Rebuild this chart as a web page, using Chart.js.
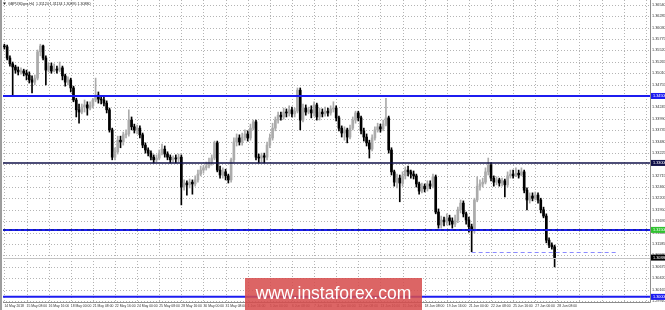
<!DOCTYPE html>
<html>
<head>
<meta charset="utf-8">
<script src="https://cdn.jsdelivr.net/npm/chart.js@4.4.0/dist/chart.umd.min.js"></script>
<style>
  html, body { margin: 0; padding: 0; background: #fff; overflow: hidden; }
  #wrap { position: relative; width: 665px; height: 310px; }
  #stamp {
    position: absolute; left: 245px; top: 278px; width: 177px; height: 32px;
    background: rgba(214, 76, 76, 0.86); color: #fff;
    font: 17.5px "Liberation Sans", Arial, sans-serif; line-height: 30px; text-align: center;
  }
</style>
</head>
<body>
<div id="wrap">
  <canvas id="chart" width="665" height="310"></canvas>
  <div id="stamp">www.instaforex.com</div>
</div>
<script>
// GBPUSD H4, 14 May 2018 00:00 .. 28 Jun 2018 04:00
const opens = [
  1.3562, 1.3560, 1.3535, 1.3522, 1.3515, 1.3508, 1.3504, 1.3506, 1.3501, 1.3497,
  1.3486, 1.3481, 1.3490, 1.3549, 1.3562, 1.3535, 1.3508, 1.3517, 1.3506, 1.3510,
  1.3508, 1.3513, 1.3495, 1.3481, 1.3486, 1.3468, 1.3441, 1.3419, 1.3414, 1.3425,
  1.3430, 1.3423, 1.3428, 1.3441, 1.3452, 1.3443, 1.3441, 1.3434, 1.3419, 1.3374,
  1.3313, 1.3325, 1.3351, 1.3347, 1.3363, 1.3365, 1.3396, 1.3381, 1.3374, 1.3378,
  1.3363, 1.3340, 1.3329, 1.3322, 1.3313, 1.3307, 1.3311, 1.3322, 1.3331, 1.3320,
  1.3313, 1.3307, 1.3311, 1.3309, 1.3313, 1.3246, 1.3255, 1.3251, 1.3257, 1.3253,
  1.3262, 1.3275, 1.3284, 1.3289, 1.3293, 1.3302, 1.3311, 1.3345, 1.3284, 1.3273,
  1.3280, 1.3271, 1.3262, 1.3307, 1.3347, 1.3356, 1.3347, 1.3358, 1.3365, 1.3356,
  1.3378, 1.3392, 1.3313, 1.3311, 1.3316, 1.3313, 1.3340, 1.3356, 1.3378, 1.3396,
  1.3407, 1.3403, 1.3414, 1.3412, 1.3419, 1.3410, 1.3416, 1.3463, 1.3396, 1.3423,
  1.3414, 1.3419, 1.3412, 1.3430, 1.3403, 1.3414, 1.3410, 1.3416, 1.3412, 1.3421,
  1.3423, 1.3401, 1.3378, 1.3367, 1.3374, 1.3358, 1.3378, 1.3396, 1.3412, 1.3401,
  1.3372, 1.3358, 1.3345, 1.3331, 1.3356, 1.3374, 1.3381, 1.3376, 1.3387, 1.3401,
  1.3329, 1.3280, 1.3257, 1.3266, 1.3255, 1.3271, 1.3284, 1.3280, 1.3275, 1.3271,
  1.3253, 1.3237, 1.3248, 1.3242, 1.3253, 1.3248, 1.3269, 1.3190, 1.3161, 1.3172,
  1.3168, 1.3177, 1.3170, 1.3163, 1.3172, 1.3195, 1.3210, 1.3186, 1.3172, 1.3157,
  1.3148, 1.3217, 1.3248, 1.3253, 1.3257, 1.3280, 1.3295, 1.3266, 1.3257, 1.3262,
  1.3255, 1.3260, 1.3251, 1.3271, 1.3275, 1.3271, 1.3277, 1.3273, 1.3280, 1.3239,
  1.3217, 1.3226, 1.3221, 1.3228, 1.3217, 1.3195, 1.3181, 1.3127, 1.3116, 1.3112
];
const highs = [
  1.3566, 1.3564, 1.3540, 1.3526, 1.3519, 1.3515, 1.3513, 1.3510, 1.3508, 1.3504,
  1.3495, 1.3497, 1.3553, 1.3566, 1.3564, 1.3540, 1.3524, 1.3524, 1.3522, 1.3517,
  1.3526, 1.3517, 1.3499, 1.3493, 1.3490, 1.3472, 1.3445, 1.3432, 1.3432, 1.3441,
  1.3437, 1.3437, 1.3445, 1.3490, 1.3459, 1.3450, 1.3448, 1.3439, 1.3423, 1.3378,
  1.3334, 1.3360, 1.3360, 1.3369, 1.3374, 1.3419, 1.3403, 1.3387, 1.3385, 1.3383,
  1.3367, 1.3345, 1.3334, 1.3327, 1.3318, 1.3318, 1.3329, 1.3342, 1.3338, 1.3325,
  1.3318, 1.3316, 1.3318, 1.3320, 1.3318, 1.3262, 1.3260, 1.3264, 1.3262, 1.3271,
  1.3284, 1.3293, 1.3295, 1.3302, 1.3311, 1.3318, 1.3349, 1.3349, 1.3293, 1.3289,
  1.3286, 1.3275, 1.3311, 1.3356, 1.3365, 1.3363, 1.3367, 1.3374, 1.3372, 1.3387,
  1.3396, 1.3396, 1.3320, 1.3322, 1.3322, 1.3347, 1.3365, 1.3389, 1.3403, 1.3414,
  1.3414, 1.3423, 1.3421, 1.3428, 1.3425, 1.3423, 1.3468, 1.3468, 1.3432, 1.3430,
  1.3425, 1.3428, 1.3437, 1.3434, 1.3423, 1.3421, 1.3425, 1.3423, 1.3428, 1.3437,
  1.3428, 1.3405, 1.3383, 1.3381, 1.3378, 1.3385, 1.3403, 1.3416, 1.3416, 1.3405,
  1.3378, 1.3365, 1.3351, 1.3363, 1.3381, 1.3389, 1.3387, 1.3396, 1.3445, 1.3405,
  1.3334, 1.3284, 1.3275, 1.3273, 1.3280, 1.3291, 1.3293, 1.3284, 1.3282, 1.3275,
  1.3257, 1.3255, 1.3253, 1.3260, 1.3260, 1.3275, 1.3273, 1.3197, 1.3181, 1.3179,
  1.3186, 1.3183, 1.3177, 1.3183, 1.3201, 1.3217, 1.3215, 1.3190, 1.3179, 1.3163,
  1.3221, 1.3269, 1.3262, 1.3266, 1.3289, 1.3311, 1.3300, 1.3271, 1.3269, 1.3266,
  1.3266, 1.3264, 1.3280, 1.3284, 1.3284, 1.3289, 1.3284, 1.3289, 1.3284, 1.3244,
  1.3233, 1.3233, 1.3235, 1.3233, 1.3221, 1.3201, 1.3186, 1.3132, 1.3121, 1.3116
];
const lows = [
  1.3555, 1.3531, 1.3517, 1.3452, 1.3501, 1.3497, 1.3499, 1.3495, 1.3486, 1.3479,
  1.3457, 1.3475, 1.3486, 1.3540, 1.3531, 1.3475, 1.3504, 1.3501, 1.3504, 1.3501,
  1.3504, 1.3486, 1.3472, 1.3475, 1.3459, 1.3437, 1.3403, 1.3389, 1.3410, 1.3414,
  1.3407, 1.3419, 1.3423, 1.3437, 1.3434, 1.3432, 1.3428, 1.3412, 1.3369, 1.3307,
  1.3307, 1.3320, 1.3334, 1.3340, 1.3356, 1.3360, 1.3374, 1.3367, 1.3365, 1.3356,
  1.3334, 1.3322, 1.3316, 1.3307, 1.3300, 1.3302, 1.3307, 1.3318, 1.3313, 1.3307,
  1.3300, 1.3302, 1.3300, 1.3302, 1.3206, 1.3239, 1.3228, 1.3244, 1.3230, 1.3248,
  1.3257, 1.3271, 1.3277, 1.3284, 1.3289, 1.3295, 1.3307, 1.3280, 1.3266, 1.3266,
  1.3262, 1.3255, 1.3257, 1.3302, 1.3338, 1.3340, 1.3340, 1.3351, 1.3349, 1.3351,
  1.3374, 1.3307, 1.3300, 1.3302, 1.3300, 1.3307, 1.3334, 1.3351, 1.3372, 1.3389,
  1.3396, 1.3398, 1.3403, 1.3405, 1.3403, 1.3403, 1.3412, 1.3374, 1.3392, 1.3407,
  1.3410, 1.3401, 1.3405, 1.3396, 1.3396, 1.3403, 1.3405, 1.3405, 1.3407, 1.3414,
  1.3394, 1.3372, 1.3358, 1.3351, 1.3345, 1.3354, 1.3374, 1.3389, 1.3394, 1.3365,
  1.3349, 1.3338, 1.3311, 1.3327, 1.3351, 1.3369, 1.3369, 1.3372, 1.3383, 1.3322,
  1.3273, 1.3248, 1.3244, 1.3213, 1.3248, 1.3264, 1.3271, 1.3266, 1.3264, 1.3246,
  1.3230, 1.3233, 1.3235, 1.3237, 1.3242, 1.3244, 1.3186, 1.3154, 1.3154, 1.3159,
  1.3161, 1.3161, 1.3154, 1.3157, 1.3166, 1.3188, 1.3179, 1.3163, 1.3145, 1.3101,
  1.3143, 1.3213, 1.3239, 1.3246, 1.3253, 1.3273, 1.3260, 1.3248, 1.3251, 1.3248,
  1.3248, 1.3224, 1.3246, 1.3266, 1.3266, 1.3269, 1.3266, 1.3271, 1.3233, 1.3195,
  1.3210, 1.3215, 1.3217, 1.3210, 1.3188, 1.3177, 1.3121, 1.3110, 1.3107, 1.3067
];
const closes = [
  1.3560, 1.3535, 1.3522, 1.3515, 1.3508, 1.3504, 1.3506, 1.3501, 1.3497, 1.3486,
  1.3481, 1.3490, 1.3549, 1.3562, 1.3535, 1.3508, 1.3517, 1.3506, 1.3510, 1.3508,
  1.3513, 1.3495, 1.3481, 1.3486, 1.3468, 1.3441, 1.3419, 1.3414, 1.3425, 1.3430,
  1.3423, 1.3428, 1.3441, 1.3452, 1.3443, 1.3441, 1.3434, 1.3419, 1.3374, 1.3313,
  1.3325, 1.3351, 1.3347, 1.3363, 1.3365, 1.3396, 1.3381, 1.3374, 1.3378, 1.3363,
  1.3340, 1.3329, 1.3322, 1.3313, 1.3307, 1.3311, 1.3322, 1.3331, 1.3320, 1.3313,
  1.3307, 1.3311, 1.3309, 1.3313, 1.3246, 1.3255, 1.3251, 1.3257, 1.3253, 1.3262,
  1.3275, 1.3284, 1.3289, 1.3293, 1.3302, 1.3311, 1.3345, 1.3284, 1.3273, 1.3280,
  1.3271, 1.3262, 1.3307, 1.3347, 1.3356, 1.3347, 1.3358, 1.3365, 1.3356, 1.3378,
  1.3392, 1.3313, 1.3311, 1.3316, 1.3313, 1.3340, 1.3356, 1.3378, 1.3396, 1.3407,
  1.3403, 1.3414, 1.3412, 1.3419, 1.3410, 1.3416, 1.3463, 1.3396, 1.3423, 1.3414,
  1.3419, 1.3412, 1.3430, 1.3403, 1.3414, 1.3410, 1.3416, 1.3412, 1.3421, 1.3423,
  1.3401, 1.3378, 1.3367, 1.3374, 1.3358, 1.3378, 1.3396, 1.3412, 1.3401, 1.3372,
  1.3358, 1.3345, 1.3331, 1.3356, 1.3374, 1.3381, 1.3376, 1.3387, 1.3401, 1.3329,
  1.3280, 1.3257, 1.3266, 1.3255, 1.3271, 1.3284, 1.3280, 1.3275, 1.3271, 1.3253,
  1.3237, 1.3248, 1.3242, 1.3253, 1.3248, 1.3269, 1.3190, 1.3161, 1.3172, 1.3168,
  1.3177, 1.3170, 1.3163, 1.3172, 1.3195, 1.3210, 1.3186, 1.3172, 1.3157, 1.3148,
  1.3217, 1.3248, 1.3253, 1.3257, 1.3280, 1.3295, 1.3266, 1.3257, 1.3262, 1.3255,
  1.3260, 1.3251, 1.3271, 1.3275, 1.3271, 1.3277, 1.3273, 1.3280, 1.3239, 1.3217,
  1.3226, 1.3221, 1.3228, 1.3217, 1.3195, 1.3181, 1.3127, 1.3116, 1.3112, 1.3088
];

// one label every 8 bars
const timeLabels = [
  "14 May 2018", "15 May 08:00", "16 May 16:00", "18 May 00:00", "21 May 08:00",
  "22 May 16:00", "24 May 00:00", "25 May 08:00", "28 May 16:00", "30 May 00:00",
  "31 May 08:00", "1 Jun 16:00", "5 Jun 00:00", "6 Jun 08:00", "7 Jun 16:00",
  "11 Jun 00:00", "12 Jun 08:00", "13 Jun 16:00", "15 Jun 00:00", "18 Jun 08:00",
  "19 Jun 16:00", "21 Jun 00:00", "22 Jun 08:00", "25 Jun 16:00", "27 Jun 00:00",
  "28 Jun 08:00"
];
const priceTicks = [
  1.36540, 1.36285, 1.36030, 1.35775, 1.35520, 1.35265, 1.35010, 1.34755, 1.34500,
  1.34245, 1.33990, 1.33735, 1.33480, 1.33225, 1.32970, 1.32715, 1.32460, 1.32205,
  1.31950, 1.31695, 1.31440, 1.31185, 1.30930, 1.30675, 1.30420, 1.30165, 1.29910
];

const levels = [1.3450, 1.3300, 1.3150, 1.3000];
const levelColors = ["#1c1cf0", "#12124a", "#1c1cf0", "#1c1cf0"];
const levelTags = ["#1c1cf0", "#12124a", "#2fc22f", "#1c1cf0"];
const bidPrice = 1.3088;
const priorLow = 1.3101;
const priorLowBar = 169;
const priorLowEnd = 222;
const header = "GBPUSDpro,H4  1.31124 1.31134 1.30895 1.30880";
const slots = 234;

const tinyFont = '"Liberation Sans", Arial, sans-serif';
const bull = "#ababab";
const bear = "#000000";
const clear = "rgba(0,0,0,0)";

function candleColors() {
  return closes.map((c, i) => (c >= opens[i] ? bull : bear));
}

// dotted MT4-style grid, drawn under the candles
const dottedGrid = {
  id: "dottedGrid",
  beforeDatasetsDraw(chart) {
    const { ctx, chartArea: a, scales: { x, y } } = chart;
    ctx.save();
    ctx.strokeStyle = "#b4b4b4";
    ctx.lineWidth = 1;
    ctx.setLineDash([1, 2]);
    x.ticks.forEach((t) => {
      const px = Math.round(x.getPixelForValue(t.value)) + 0.5;
      ctx.beginPath();
      ctx.moveTo(px, a.top);
      ctx.lineTo(px, a.bottom);
      ctx.stroke();
    });
    y.ticks.forEach((t) => {
      const py = Math.round(y.getPixelForValue(t.value)) + 0.5;
      ctx.beginPath();
      ctx.moveTo(a.left, py);
      ctx.lineTo(a.right, py);
      ctx.stroke();
    });
    ctx.restore();
  }
};

const overlay = {
  id: "overlay",
  afterDatasetsDraw(chart) {
    const { ctx, chartArea: a, scales: { x, y } } = chart;
    ctx.save();

    // bid line
    const yb = Math.round(y.getPixelForValue(bidPrice)) + 0.5;
    ctx.strokeStyle = "#c4c4c4";
    ctx.lineWidth = 1;
    ctx.beginPath();
    ctx.moveTo(a.left, yb);
    ctx.lineTo(a.right, yb);
    ctx.stroke();

    // prior low marker
    const yl = Math.round(y.getPixelForValue(priorLow)) + 0.5;
    ctx.strokeStyle = "#8a8aff";
    ctx.setLineDash([4, 3]);
    ctx.beginPath();
    ctx.moveTo(x.getPixelForValue(priorLowBar), yl);
    ctx.lineTo(x.getPixelForValue(priorLowEnd), yl);
    ctx.stroke();
    ctx.setLineDash([]);

    // support / resistance levels
    levels.forEach((lv, i) => {
      const py = y.getPixelForValue(lv);
      ctx.strokeStyle = levelColors[i];
      ctx.lineWidth = i === 1 ? 1.5 : 2;
      ctx.beginPath();
      ctx.moveTo(a.left, py);
      ctx.lineTo(a.right, py);
      ctx.stroke();
    });
    const ym = y.getPixelForValue(levels[2]);
    ctx.strokeStyle = "#0a1f7a";
    ctx.lineWidth = 1;
    ctx.setLineDash([3, 3]);
    ctx.beginPath();
    ctx.moveTo(a.left, ym);
    ctx.lineTo(a.right, ym);
    ctx.stroke();
    ctx.setLineDash([]);
    ctx.restore();
  },
  afterDraw(chart) {
    const { ctx, chartArea: a, scales: { y } } = chart;
    ctx.save();

    // frame
    ctx.fillStyle = "#9c9c9c";
    ctx.fillRect(0, 0, 2, chart.height);
    ctx.strokeStyle = "#8c8c8c";
    ctx.lineWidth = 1;
    ctx.beginPath();
    ctx.moveTo(a.right + 0.5, 0);
    ctx.lineTo(a.right + 0.5, a.bottom + 0.5);
    ctx.lineTo(a.left, a.bottom + 0.5);
    ctx.stroke();

    // price tags on the right axis
    const tag = (price, bg, fg) => {
      const py = y.getPixelForValue(price);
      ctx.fillStyle = bg;
      ctx.fillRect(a.right + 1, py - 3, chart.width - a.right - 1, 6);
      ctx.fillStyle = fg;
      ctx.font = "3.8px " + tinyFont;
      ctx.textBaseline = "middle";
      ctx.fillText(price.toFixed(5), a.right + 3, py);
    };
    levels.forEach((lv, i) => tag(lv, levelTags[i], "#ffffff"));
    tag(bidPrice, "#000000", "#ffffff");

    // symbol header
    ctx.fillStyle = "#222";
    ctx.beginPath();
    ctx.moveTo(3, 2.5);
    ctx.lineTo(6, 2.5);
    ctx.lineTo(4.5, 5);
    ctx.fill();
    ctx.font = "3.6px " + tinyFont;
    ctx.textBaseline = "middle";
    ctx.fillText(header, 8, 4);
    ctx.restore();
  }
};

new Chart(document.getElementById("chart"), {
  type: "bar",
  data: {
    labels: Array.from({ length: slots }, (_, i) => i),
    datasets: [
      {
        data: lows.map((l, i) => [l, highs[i]]),
        backgroundColor: candleColors(),
        barThickness: 1,
        grouped: false,
        order: 2
      },
      {
        data: opens.map((o, i) => [o, closes[i]]),
        backgroundColor: candleColors(),
        barThickness: 2,
        minBarLength: 1,
        grouped: false,
        order: 1
      }
    ]
  },
  options: {
    responsive: false,
    animation: false,
    devicePixelRatio: 1,
    layout: { padding: { left: 3, top: 0, right: 0, bottom: 0 } },
    plugins: { legend: { display: false }, tooltip: { enabled: false } },
    scales: {
      x: {
        offset: true,
        grid: { offset: false, color: clear, drawTicks: false },
        border: { display: false },
        afterBuildTicks: (s) => { s.ticks = s.ticks.filter((t) => t.value % 8 === 0); },
        afterFit: (s) => { s.height = 8; s.paddingLeft = 0; s.paddingRight = 0; },
        ticks: {
          autoSkip: false,
          maxRotation: 0,
          align: "start",
          padding: 2,
          color: "#333",
          font: { size: 3.4, family: tinyFont },
          callback: (v) => timeLabels[v / 8] || ""
        }
      },
      y: {
        position: "right",
        min: 1.29885,
        max: 1.3665,
        grid: { color: clear, drawTicks: false },
        border: { display: false },
        afterBuildTicks: (s) => { s.ticks = priceTicks.map((v) => ({ value: v })); },
        afterFit: (s) => { s.width = 15; s.paddingTop = 0; s.paddingBottom = 0; },
        ticks: {
          padding: 2,
          color: "#333",
          font: { size: 3.8, family: tinyFont },
          callback: (v) => v.toFixed(5)
        }
      }
    }
  },
  plugins: [dottedGrid, overlay]
});
</script>
</body>
</html>
